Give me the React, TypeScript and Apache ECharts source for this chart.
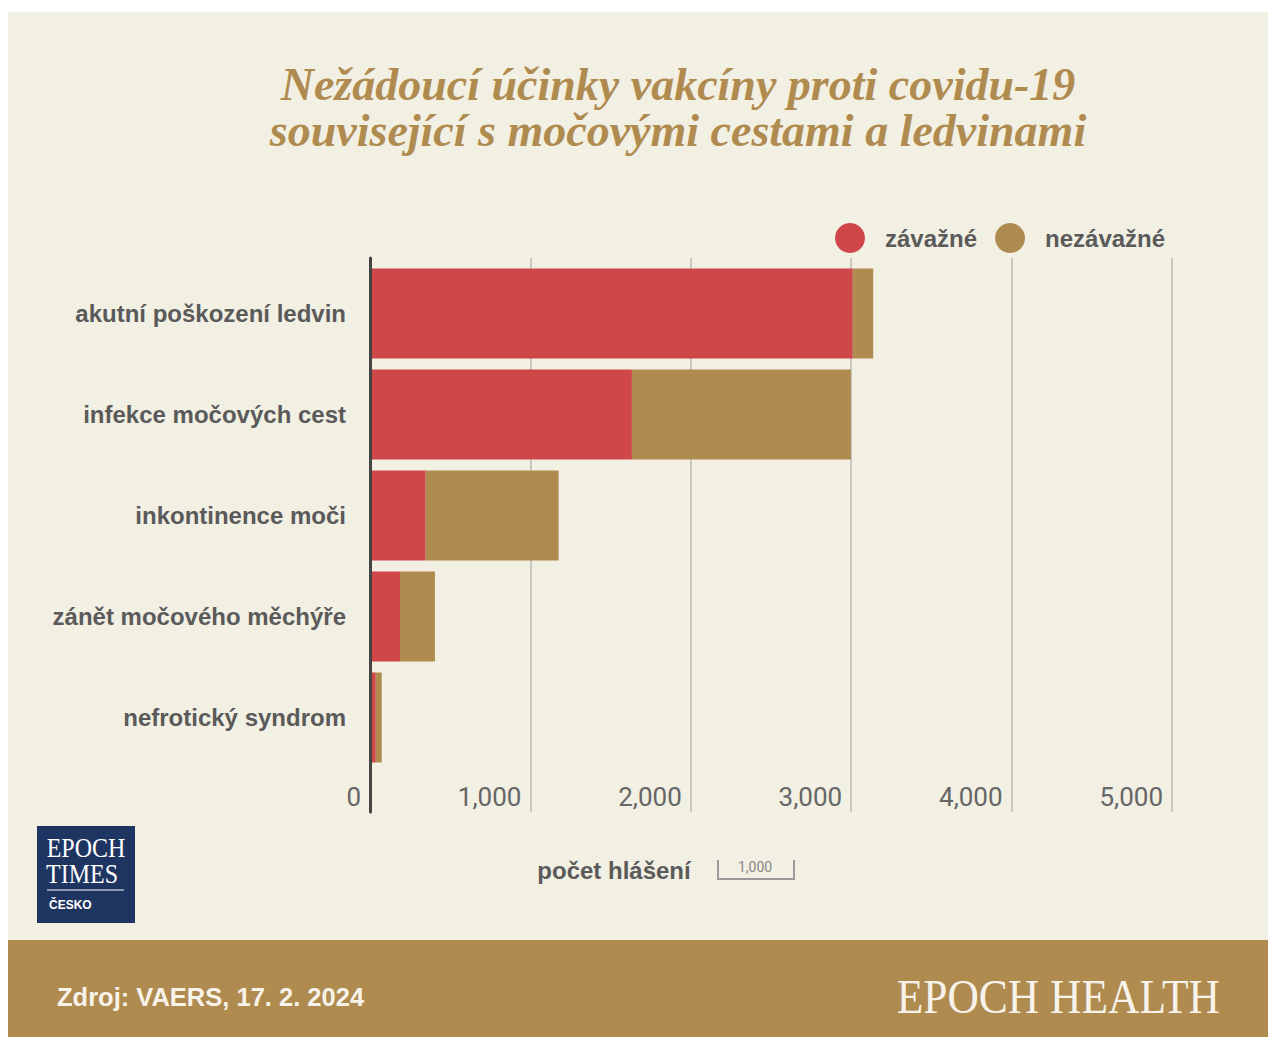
import React, { useEffect, useRef } from "react";
import * as echarts from "echarts";

const categories = [
  "akutní poškození ledvin",
  "infekce močových cest",
  "inkontinence moči",
  "zánět močového měchýře",
  "nefrotický syndrom",
];
const seriousValues = [3010, 1633, 347, 187, 36];
const nonSeriousValues = [127, 1365, 829, 218, 37];
const seriesNames = ["závažné", "nezávažné"];
const axisMax = 5000;
const axisInterval = 1000;

const RED = "#cf4749";
const GOLD = "#b08b50";
const BG = "#f2efe3";
const TEXT = "#5a5a5a";

export default function App() {
  const ref = useRef<HTMLDivElement>(null);
  useEffect(() => {
    document.body.style.margin = "0";
    const chart = echarts.init(ref.current!, null, { renderer: "svg" });
    const gridLeft = 370;
    const gridRight = 1268 - 1172;
    chart.setOption({
      animation: false,
      backgroundColor: "#ffffff",
      title: {
        text: "Nežádoucí účinky vakcíny proti covidu-19\nsouvisející s močovými cestami a ledvinami",
        left: 673,
        top: 56,
        textAlign: "center",
        textStyle: {
          fontFamily: "Liberation Serif",
          fontStyle: "italic",
          fontWeight: "bold",
          fontSize: 46,
          lineHeight: 46,
          color: GOLD,
        },
      },
      legend: {
        left: 830,
        top: 218,
        itemWidth: 30,
        itemHeight: 30,
        itemGap: 18,
        icon: "circle",
        data: seriesNames,
        textStyle: {
          fontFamily: "Liberation Sans",
          fontWeight: "bold",
          fontSize: 24,
          color: TEXT,
          padding: [0, 0, 0, 15],
        },
      },
      grid: [
        { left: gridLeft, right: gridRight, top: 263, height: 505 },
        { left: gridLeft, right: gridRight, top: 258, height: 554 },
      ],
      xAxis: [
        {
          gridIndex: 0,
          type: "value",
          min: 0,
          max: axisMax,
          interval: axisInterval,
          show: false,
        },
        {
          gridIndex: 1,
          type: "value",
          min: 0,
          max: axisMax,
          interval: axisInterval,
          axisLine: { show: false },
          axisTick: { show: false },
          splitLine: { show: true, lineStyle: { color: "#c9c7c0", width: 2 } },
          axisLabel: {
            inside: true,
            margin: 2,
            align: "right",
            verticalAlign: "bottom",
            padding: [0, 9, 0, 0],
            fontFamily: "Roboto",
            fontSize: 26,
            color: "#666",
            formatter: (v: number) => v.toLocaleString("en-US"),
          },
        },
      ],
      yAxis: [
        {
          gridIndex: 0,
          type: "category",
          data: categories,
          inverse: true,
          axisLine: { show: false },
          axisTick: { show: false },
          axisLabel: {
            margin: 24,
            fontFamily: "Liberation Sans",
            fontWeight: "bold",
            fontSize: 24,
            color: TEXT,
          },
        },
        {
          gridIndex: 1,
          type: "value",
          min: 0,
          max: 1,
          z: 5,
          axisLine: { show: true, lineStyle: { color: "#444", width: 3 } },
          axisTick: { show: false },
          axisLabel: { show: false },
          splitLine: { show: false },
        },
      ],
      series: [
        {
          name: seriesNames[0],
          type: "bar",
          stack: "total",
          xAxisIndex: 0,
          yAxisIndex: 0,
          barWidth: 90,
          itemStyle: { color: RED },
          data: seriousValues,
        },
        {
          name: seriesNames[1],
          type: "bar",
          stack: "total",
          xAxisIndex: 0,
          yAxisIndex: 0,
          barWidth: 90,
          itemStyle: { color: GOLD },
          data: nonSeriousValues,
        },
        {
          name: "_grid",
          type: "scatter",
          xAxisIndex: 1,
          yAxisIndex: 1,
          data: [],
        },
      ],
      graphic: [
        {
          type: "rect",
          z: -10,
          silent: true,
          shape: { x: 8, y: 12, width: 1260, height: 928 },
          style: { fill: BG },
        },
        {
          type: "rect",
          z: -10,
          silent: true,
          shape: { x: 8, y: 940, width: 1260, height: 97 },
          style: { fill: GOLD },
        },
        {
          type: "text",
          x: 57,
          y: 997,
          style: {
            text: "Zdroj: VAERS, 17. 2. 2024",
            fontFamily: "Liberation Sans",
            fontWeight: "bold",
            fontSize: 25.5,
            fill: "#f7f3ea",
            verticalAlign: "middle",
          },
        },
        {
          type: "text",
          x: 1220,
          y: 997,
          scaleY: 1.12,
          style: {
            text: "EPOCH HEALTH",
            fontFamily: "Liberation Serif",
            fontSize: 43.5,
            fill: "#f7f3ea",
            align: "right",
            verticalAlign: "middle",
          },
        },
        {
          type: "rect",
          shape: { x: 37, y: 826, width: 98, height: 97 },
          style: { fill: "#1f3561" },
        },
        {
          type: "text",
          x: 86,
          y: 848,
          scaleY: 1.1,
          style: {
            text: "EPOCH",
            fontFamily: "Liberation Serif",
            fontSize: 24,
            fill: "#ffffff",
            align: "center",
            verticalAlign: "middle",
          },
        },
        {
          type: "text",
          x: 82,
          y: 874,
          scaleY: 1.1,
          style: {
            text: "TIMES",
            fontFamily: "Liberation Serif",
            fontSize: 24,
            fill: "#ffffff",
            align: "center",
            verticalAlign: "middle",
          },
        },
        {
          type: "line",
          shape: { x1: 47, y1: 890, x2: 124, y2: 890 },
          style: { stroke: "#ffffff", lineWidth: 1 },
        },
        {
          type: "text",
          x: 49,
          y: 905,
          style: {
            text: "ČESKO",
            fontFamily: "Liberation Sans",
            fontWeight: "bold",
            fontSize: 12,
            fill: "#ffffff",
            verticalAlign: "middle",
          },
        },
        {
          type: "text",
          x: 614,
          y: 870,
          style: {
            text: "počet hlášení",
            fontFamily: "Liberation Sans",
            fontWeight: "bold",
            fontSize: 24,
            fill: TEXT,
            align: "center",
            verticalAlign: "middle",
          },
        },
        {
          type: "polyline",
          shape: { points: [[718, 860], [718, 879], [794, 879], [794, 860]] },
          style: { stroke: "#9a9a9a", lineWidth: 2, fill: null },
        },
        {
          type: "text",
          x: 755,
          y: 867,
          style: {
            text: "1,000",
            fontFamily: "Roboto",
            fontSize: 14,
            fill: "#888",
            align: "center",
            verticalAlign: "middle",
          },
        },
      ],
    });
    return () => chart.dispose();
  }, []);
  return <div ref={ref} style={{ width: 1268, height: 1037 }} />;
}
